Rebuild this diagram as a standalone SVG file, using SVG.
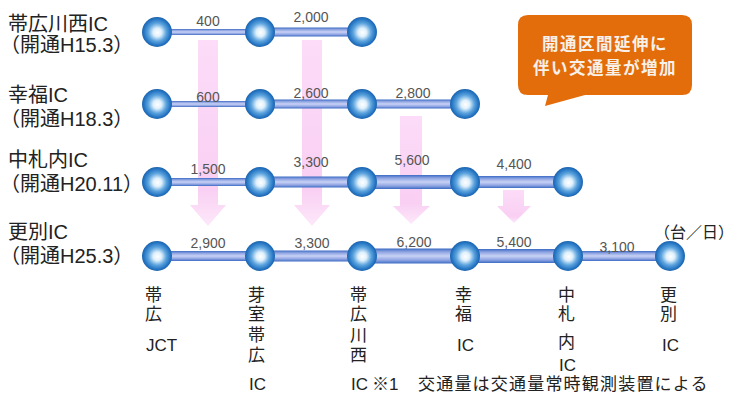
<svg xmlns="http://www.w3.org/2000/svg" width="735" height="394" viewBox="0 0 735 394">
<defs>
  <radialGradient id="ball" cx="50%" cy="50%" r="50%" fx="52%" fy="52%">
    <stop offset="0" stop-color="#ffffff"/>
    <stop offset="0.28" stop-color="#dff0fc"/>
    <stop offset="0.6" stop-color="#5da4de"/>
    <stop offset="0.88" stop-color="#2575c3"/>
    <stop offset="1" stop-color="#1d63ac"/>
  </radialGradient>
  <linearGradient id="pipe" x1="0" y1="0" x2="0" y2="1">
    <stop offset="0" stop-color="#3b6bc3"/>
    <stop offset="0.22" stop-color="#8ea3e2"/>
    <stop offset="0.5" stop-color="#c8d2f5"/>
    <stop offset="0.78" stop-color="#8ea3e2"/>
    <stop offset="1" stop-color="#3b6bc3"/>
  </linearGradient>
  <linearGradient id="pink" x1="0" y1="0" x2="0" y2="1">
    <stop offset="0" stop-color="#fcdcf8"/>
    <stop offset="0.8" stop-color="#f9cff3"/>
    <stop offset="1" stop-color="#fde8fa"/>
  </linearGradient>
</defs>
<style>
  .t{font-family:"Liberation Sans","Noto Sans CJK JP",sans-serif;fill:#222}
  .row{font-size:20px}
  .bot{font-size:17px}
  .num{font-family:"Liberation Sans",Arial,sans-serif;font-size:14px;fill:#555;text-anchor:middle}
  .call{font-family:"Noto Sans CJK JP",sans-serif;font-size:16.5px;font-weight:bold;fill:#f7f1ea;text-anchor:middle;letter-spacing:1.5px}
  .seg{fill:url(#pipe)}
  .node{fill:url(#ball)}
  .arw{fill:url(#pink)}
</style>

<g id="increase-arrows">
  <path class="arw" d="M198 40 H218 V205 H226 L208 226 L190 205 H198 Z"/>
  <path class="arw" d="M302 40 H322 V205 H330 L312 226 L294 205 H302 Z"/>
  <path class="arw" d="M400 116 H422 V206 H430 L411 224 L393 206 H400 Z"/>
  <path class="arw" d="M503 190 H524 V206 H531 L514 223 L497 206 H503 Z"/>
</g>

<g id="connectors">
  <rect class="seg" x="157" y="29" width="103" height="6"/>
  <rect class="seg" x="260" y="27.5" width="102" height="9"/>

  <rect class="seg" x="157" y="101" width="103" height="6"/>
  <rect class="seg" x="260" y="99.5" width="102" height="9"/>
  <rect class="seg" x="362" y="99.5" width="103" height="9"/>

  <rect class="seg" x="157" y="178" width="103" height="8"/>
  <rect class="seg" x="260" y="176.5" width="102" height="11"/>
  <rect class="seg" x="362" y="175" width="103" height="14"/>
  <rect class="seg" x="465" y="176" width="103" height="12"/>

  <rect class="seg" x="157" y="251" width="103" height="10"/>
  <rect class="seg" x="260" y="250.5" width="102" height="11"/>
  <rect class="seg" x="362" y="248.5" width="103" height="15"/>
  <rect class="seg" x="465" y="249" width="103" height="14"/>
  <rect class="seg" x="568" y="251" width="102" height="10"/>
</g>

<g id="volumes">
  <text class="num" x="208" y="26">400</text>
  <text class="num" x="311" y="22">2,000</text>
  <text class="num" x="208" y="102">600</text>
  <text class="num" x="311" y="98">2,600</text>
  <text class="num" x="413" y="98">2,800</text>
  <text class="num" x="208" y="174">1,500</text>
  <text class="num" x="311" y="167">3,300</text>
  <text class="num" x="412" y="165">5,600</text>
  <text class="num" x="514" y="169">4,400</text>
  <text class="num" x="208" y="248">2,900</text>
  <text class="num" x="312" y="248">3,300</text>
  <text class="num" x="414" y="247">6,200</text>
  <text class="num" x="514" y="247">5,400</text>
  <text class="num" x="617" y="252">3,100</text>
</g>

<g id="nodes">
  <g id="n1-1"><circle class="node" cx="157" cy="32" r="15"/></g>
  <g id="n1-2"><circle class="node" cx="260" cy="32" r="15"/></g>
  <g id="n1-3"><circle class="node" cx="362" cy="32" r="15"/></g>

  <g id="n2-1"><circle class="node" cx="157" cy="104" r="15"/></g>
  <g id="n2-2"><circle class="node" cx="260" cy="104" r="15"/></g>
  <g id="n2-3"><circle class="node" cx="362" cy="104" r="15"/></g>
  <g id="n2-4"><circle class="node" cx="465" cy="104" r="15"/></g>

  <g id="n3-1"><circle class="node" cx="157" cy="182" r="15"/></g>
  <g id="n3-2"><circle class="node" cx="260" cy="182" r="15"/></g>
  <g id="n3-3"><circle class="node" cx="362" cy="182" r="15"/></g>
  <g id="n3-4"><circle class="node" cx="465" cy="182" r="15"/></g>
  <g id="n3-5"><circle class="node" cx="568" cy="182" r="15"/></g>

  <g id="n4-1"><circle class="node" cx="157" cy="256" r="15"/></g>
  <g id="n4-2"><circle class="node" cx="260" cy="256" r="15"/></g>
  <g id="n4-3"><circle class="node" cx="362" cy="256" r="15"/></g>
  <g id="n4-4"><circle class="node" cx="465" cy="256" r="15"/></g>
  <g id="n4-5"><circle class="node" cx="568" cy="256" r="15"/></g>
  <g id="n4-6"><circle class="node" cx="670" cy="256" r="15"/></g>
</g>

<g id="row-labels" class="t row">
  <text x="8" y="31">帯広川西IC</text>
  <text x="0" y="52">（開通H15.3）</text>
  <text x="8" y="102">幸福IC</text>
  <text x="0" y="126">（開通H18.3）</text>
  <text x="8" y="167">中札内IC</text>
  <text x="0" y="191">（開通H20.11）</text>
  <text x="8" y="239">更別IC</text>
  <text x="0" y="263">（開通H25.3）</text>
</g>

<g id="callout">
  <path fill="#e36c0b" d="M528 15 H682 Q692 15 692 25 V85 Q692 95 682 95 H585 L545 106 L548 95 H528 Q518 95 518 85 V25 Q518 15 528 15 Z"/>
  <text class="call"><tspan x="605" y="50">開通区間延伸に</tspan><tspan x="605" y="74">伴い交通量が増加</tspan></text>
</g>

<g id="unit">
  <text class="t" x="654" y="238" font-size="16">（台／日）</text>
</g>

<g id="ic-names" class="t bot">
  <text x="145" y="301">帯</text>
  <text x="145" y="320">広</text>
  <text x="146" y="351">JCT</text>

  <text x="248" y="301">芽</text>
  <text x="248" y="320">室</text>
  <text x="248" y="341">帯</text>
  <text x="248" y="361">広</text>
  <text x="249" y="390">IC</text>

  <text x="350" y="301">帯</text>
  <text x="350" y="320">広</text>
  <text x="350" y="341">川</text>
  <text x="350" y="361">西</text>
  <text x="351" y="390">IC</text>

  <text x="455" y="301">幸</text>
  <text x="455" y="320">福</text>
  <text x="457" y="351">IC</text>

  <text x="558" y="301">中</text>
  <text x="558" y="320">札</text>
  <text x="558" y="348">内</text>
  <text x="559" y="371">IC</text>

  <text x="660" y="301">更</text>
  <text x="660" y="320">別</text>
  <text x="662" y="351">IC</text>
</g>

<g id="footnote">
  <text class="t bot"><tspan x="372" y="390">※1</tspan><tspan x="418" y="390" letter-spacing="1.2">交通量は交通量常時観測装置による</tspan></text>
</g>
</svg>
